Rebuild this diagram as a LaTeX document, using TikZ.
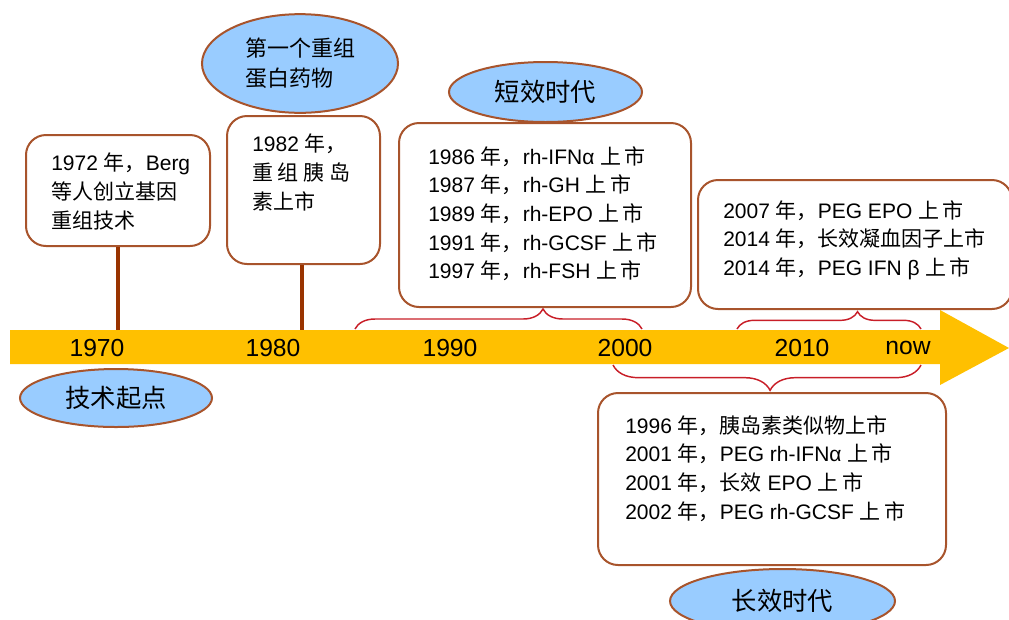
\documentclass[tikz,border=0pt]{standalone}
\usepackage{fontspec}
\setmainfont{Liberation Sans}
\newfontfamily\cjk{Noto Sans CJK SC}
\newcommand{\zh}[1]{{\cjk #1}}
\newcommand{\shangshi}{\zh{上\hspace{2.5pt}市}}
\usetikzlibrary{shapes.geometric,decorations.pathreplacing}
\definecolor{boxbrown}{RGB}{168,84,44}
\definecolor{stembrown}{RGB}{153,51,0}
\definecolor{ovalblue}{RGB}{153,204,255}
\definecolor{bandyellow}{RGB}{255,192,0}
\definecolor{bracered}{RGB}{200,30,40}
\begin{document}
\begin{tikzpicture}[x=0.75pt,y=-0.75pt,
  box/.style={draw=boxbrown, line width=1.5pt, rounded corners=15pt, fill=white, inner sep=0pt},
  oval/.style={ellipse, draw=boxbrown, line width=1.5pt, fill=ovalblue, inner sep=0pt},
  txt/.style={anchor=north west, inner sep=0pt, align=left, font=\fontsize{15.75}{21.5}\selectfont},
  ovtxt/.style={font=\cjk\fontsize{19}{22}\selectfont},
  year/.style={inner sep=0pt, font=\fontsize{18.5}{20}\selectfont},
  stem/.style={draw=stembrown, line width=2.5pt},
  bracedeco/.style={draw=bracered, line width=1.1pt, decorate, decoration={brace, amplitude=#1}},
]
\useasboundingbox (0,0) rectangle (1009,619);
% band with arrow head
\fill[bandyellow] (10,330) -- (940,330) -- (940,310) -- (1009,348) -- (940,385) -- (940,364) -- (10,364) -- cycle;
% year labels
\node[year] (y1970) at (97,348) {1970};
\node[year] (y1980) at (273,348) {1980};
\node[year] (y1990) at (450,348) {1990};
\node[year] (y2000) at (625,348) {2000};
\node[year] (y2010) at (802,348) {2010};
\node[year] (ynow) at (908,348) {now};
% boxes
\node[box, minimum width=138pt, minimum height=83.25pt] (b1) at (118,190.5) {};
\node[box, minimum width=114.75pt, minimum height=111pt] (b2) at (303.5,190) {};
\node[box, minimum width=219pt, minimum height=138pt] (b3) at (545,215) {};
\node[box, minimum width=235.5pt, minimum height=96.75pt] (b4) at (855,244.5) {};
\node[box, minimum width=261pt, minimum height=129pt] (b5) at (772,479) {};
% stems
\coordinate (s1) at (118,330);
\coordinate (s2) at (302,330);
\draw[stem] (b1.south -| s1) -- (s1);
\draw[stem] (b2.south -| s2) -- (s2);
% braces
\coordinate (br1a) at (355,329);
\coordinate (br1b) at (642,329);
\coordinate (br2a) at (737,329);
\coordinate (br2b) at (921,329);
\coordinate (br3a) at (921,365);
\coordinate (br3b) at (613,365);
\draw[bracedeco=15pt, decoration={aspect=0.655}] (br1a) -- (br1b);
\draw[bracedeco=13pt, decoration={aspect=0.655}] (br2a) -- (br2b);
\draw[bracedeco=19pt, decoration={aspect=0.49}] (br3a) -- (br3b);
% box texts
\node[txt] (t1) at (51,153) {1972 \zh{年，}Berg\\ \zh{等人创立基因}\\ \zh{重组技术}};
\node[txt] (t2) at (252,134) {1982 \zh{年，}\\ \zh{重\hspace{3.5pt}组\hspace{3.5pt}胰\hspace{3.5pt}岛}\\ \zh{素上市}};
\node[txt] (t3) at (428,146) {1986 \zh{年，}rh-IFNα \shangshi\\ 1987 \zh{年，}rh-GH \shangshi\\ 1989 \zh{年，}rh-EPO \shangshi\\ 1991 \zh{年，}rh-GCSF \shangshi\\ 1997 \zh{年，}rh-FSH \shangshi};
\node[txt] (t4) at (723,200) {2007 \zh{年，}PEG EPO \shangshi\\ 2014 \zh{年，长效凝血因子上市}\\ 2014 \zh{年，}PEG IFN β \shangshi};
\node[txt] (t5) at (625,415) {1996 \zh{年，胰岛素类似物上市}\\ 2001 \zh{年，}PEG rh-IFNα \shangshi\\ 2001 \zh{年，长效} EPO \shangshi\\ 2002 \zh{年，}PEG rh-GCSF \shangshi};
% ovals
\node[oval, minimum width=144pt, minimum height=43.5pt, ovtxt] (e1) at (116,398) {技术起点};
\node[oval, minimum width=147pt, minimum height=74pt, align=left, font=\cjk\fontsize{16.5}{22.5}\selectfont] (e2) at (300,63.5) {第一个重组\\蛋白药物};
\node[oval, minimum width=144.75pt, minimum height=45pt, ovtxt] (e3) at (545.5,92) {短效时代};
\node[oval, minimum width=168.75pt, minimum height=48pt, ovtxt] (e4) at (782.5,601) {长效时代};
\end{tikzpicture}
\end{document}
